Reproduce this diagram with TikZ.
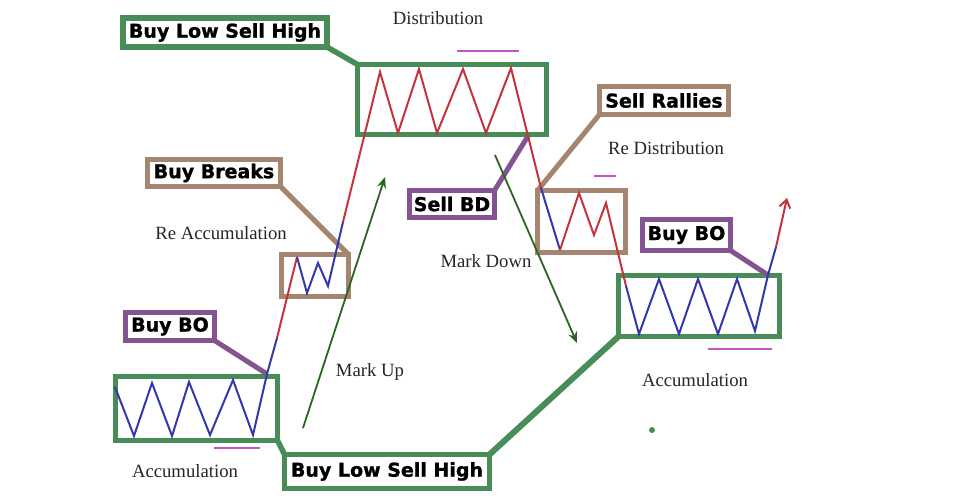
\documentclass[tikz,border=0pt]{standalone}
\usepackage{fontspec}
\setmainfont{Liberation Serif}
\newfontfamily\lblfont{DejaVu Sans}[BoldFeatures={FakeBold=1.2}]
\usetikzlibrary{arrows.meta}
\definecolor{boxgreen}{RGB}{72,140,88}
\definecolor{boxbrown}{RGB}{165,132,112}
\definecolor{boxpurple}{RGB}{132,84,146}
\definecolor{pred}{RGB}{196,52,60}
\definecolor{pblue}{RGB}{52,56,170}
\definecolor{agreen}{RGB}{44,100,36}
\definecolor{mag}{RGB}{196,84,200}
\tikzset{
  rangebox/.style={draw, line width=5pt, inner sep=0pt, outer sep=0pt},
  lbl/.style={draw, fill=white, line width=5pt, inner sep=0pt, outer sep=0pt,
    font=\lblfont\bfseries\fontsize{19}{19}\selectfont, text=black},
  conn/.style={line width=5pt},
  price/.style={line width=2pt, line join=miter},
  markarrow/.style={agreen, line width=1.8pt, -{Stealth[length=11pt,width=9pt]}},
  caption/.style={font=\fontsize{18.7}{19}\selectfont, text=black!85, inner sep=0pt},
  magline/.style={mag, line width=2.5pt}
}
\begin{document}
\begin{tikzpicture}[x=1pt,y=-1pt]
\useasboundingbox (0,0) rectangle (961,501);
\fill[white] (0,0) rectangle (961,501);

% range boxes
\node[rangebox, draw=boxgreen, line width=5.5pt, minimum width=162pt, minimum height=64pt] (acc1) at (196.5,408.5) {};
\node[rangebox, draw=boxbrown, minimum width=67pt, minimum height=42pt] (reacc) at (315,275.5) {};
\node[rangebox, draw=boxgreen, line width=5.5pt, minimum width=189pt, minimum height=70pt] (dist) at (452,99.5) {};
\node[rangebox, draw=boxbrown, minimum width=88pt, minimum height=62pt] (redist) at (581.5,221.5) {};
\node[rangebox, draw=boxgreen, line width=5.5pt, minimum width=161pt, minimum height=61pt] (acc2) at (699,306) {};

% points on the price line
\coordinate (bo1) at (267,374);
\coordinate (bd) at (528,136);
\coordinate (bo2) at (768,275);

% label boxes
\node[lbl, draw=boxgreen, line width=5.5pt, minimum width=204pt, minimum height=29pt] (blshtop) at (225,32.5) {Buy Low Sell High};
\node[lbl, draw=boxgreen, line width=5.5pt, minimum width=205pt, minimum height=34pt] (blshbot) at (387,471.5) {Buy Low Sell High};
\node[lbl, draw=boxbrown, minimum width=133pt, minimum height=27pt] (buybreaks) at (214,173) {Buy Breaks};
\node[lbl, draw=boxpurple, minimum width=89pt, minimum height=28pt] (buybo1) at (170,326.5) {Buy BO};
\node[lbl, draw=boxpurple, minimum width=85pt, minimum height=27pt] (sellbd) at (452,204) {Sell BD};
\node[lbl, draw=boxbrown, minimum width=129pt, minimum height=28pt] (sellrallies) at (664,100.5) {Sell Rallies};
\node[lbl, draw=boxpurple, minimum width=88pt, minimum height=31pt] (buybo2) at (686.5,235) {Buy BO};

% connectors
\draw[conn, boxgreen, line width=5.5pt] (blshtop.south east) -- (dist.north west);
\draw[conn, boxgreen, line width=5.5pt] (blshbot.north west) -- (acc1.south east);
\draw[conn, boxgreen, line width=6pt] (blshbot.north east) -- (acc2.south west);
\draw[conn, boxbrown] (buybreaks.south east) -- (reacc.north east);
\draw[conn, boxpurple] (buybo1.south east) -- (bo1);
\draw[conn, boxpurple] (sellbd.north east) -- (bd);
\draw[conn, boxbrown] (sellrallies.south west) -- (redist.north west);
\draw[conn, boxpurple] (buybo2.south east) -- (bo2);

% price path
\draw[price, pblue] (115,387) -- (134,436) -- (152,383) -- (172,436) -- (189,382) -- (210,435) -- (233,380) -- (253,435) -- (bo1) -- (277,338);
\draw[price, pred] (277,338) -- (297,257);
\draw[price, pblue] (297,257) -- (307,293) -- (318,263) -- (328,286) -- (343,222);
\draw[price, pred] (343,222) -- (380,72) -- (398,133) -- (419,69) -- (437,133) -- (463,69) -- (486,133) -- (511,68) -- (541,188);
\draw[price, pblue] (541,188) -- (560,250);
\draw[price, pred] (560,250) -- (579,193) -- (594,235) -- (606,203) -- (626,286);
\draw[price, pblue] (626,286) -- (639,334) -- (659,279) -- (679,334) -- (698,279) -- (718,334) -- (737,279) -- (755,331) -- (bo2) -- (776,247);
\draw[price, pred, -{Straight Barb[length=8pt,width=11pt]}] (776,247) -- (787,198);

% mark up / mark down arrows
\coordinate (mu1) at (303,428);
\coordinate (mu2) at (385,177);
\coordinate (md1) at (495,155);
\coordinate (md2) at (577,343);
\draw[markarrow] (mu1) -- (mu2);
\draw[markarrow] (md1) -- (md2);

% magenta marks
\draw[magline] (214,448) -- (260,448);
\draw[magline] (457,51) -- (519,51);
\draw[magline] (594,176) -- (616,176);
\draw[magline] (708,349) -- (772,349);

% captions
\node[caption] (tdist) at (438,18) {Distribution};
\node[caption] (treacc) at (221,233) {Re Accumulation};
\node[caption] (tacc1) at (185,471) {Accumulation};
\node[caption] (tmu) at (370,372) {Mark Up};
\node[caption] (tmd) at (486,261) {Mark Down};
\node[caption] (tredist) at (666,148) {Re Distribution};
\node[caption] (tacc2) at (695,380) {Accumulation};

% dot
\fill[boxgreen] (652,430) circle (3pt);
\end{tikzpicture}
\end{document}
